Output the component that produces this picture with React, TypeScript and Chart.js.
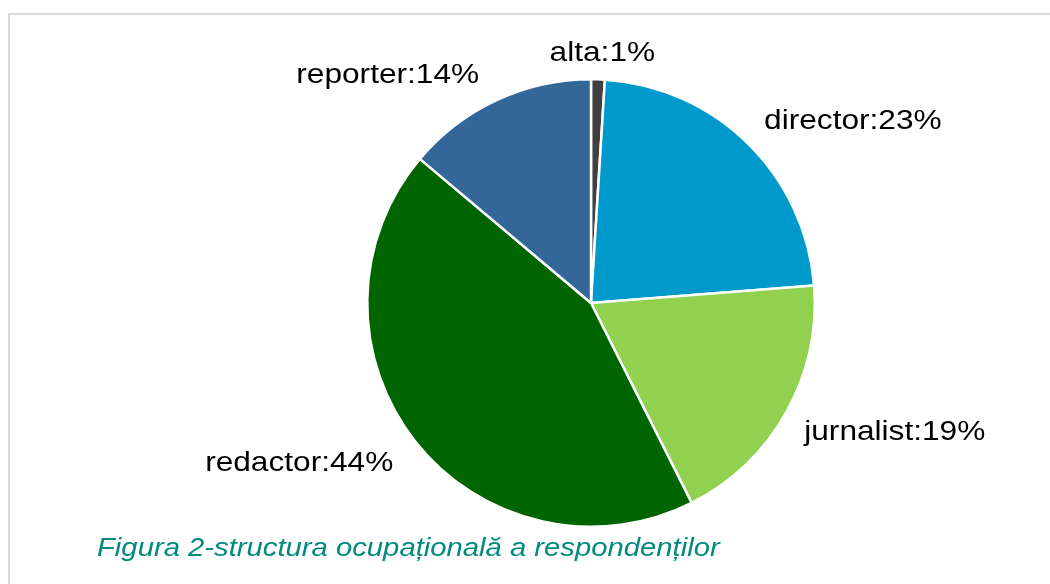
import React, { useEffect, useRef } from "react";
import { Chart, registerables } from "chart.js";

Chart.register(...registerables);

const categories = ["alta", "director", "jurnalist", "redactor", "reporter"];
const values = [1, 23, 19, 44, 14];
const labelsText = ["alta:1%", "director:23%", "jurnalist:19%", "redactor:44%", "reporter:14%"];
const colors = ["#404040", "#0099CC", "#92D050", "#006400", "#336699"];
const caption = "Figura 2-structura ocupațională a respondenților";

const SX = 1.15;
const FONT = "27.5px 'Liberation Sans', Arial, sans-serif";

const outsideLabels = {
  id: "outsideLabels",
  afterDatasetsDraw(chart: any) {
    const ctx = chart.ctx;
    const meta = chart.getDatasetMeta(0);
    ctx.save();
    ctx.font = FONT;
    ctx.fillStyle = "#000000";
    ctx.textBaseline = "alphabetic";
    ctx.textAlign = "left";
    meta.data.forEach((arc: any, i: number) => {
      const a = (arc.startAngle + arc.endAngle) / 2;
      const r = arc.outerRadius + 13;
      const ax = arc.x + Math.cos(a) * r;
      const ay = arc.y + Math.sin(a) * r;
      const text = labelsText[i];
      const w = ctx.measureText(text).width * SX;
      const right = Math.cos(a);
      const up = -Math.sin(a);
      let left: number;
      if (right > 0.15) left = ax + 7;
      else if (right < -0.15) left = ax - 12 - w;
      else left = ax + 4 - w / 2;
      let baseline: number;
      if (up > 0) baseline = ay - 5;
      else baseline = ay + 21;
      ctx.save();
      ctx.translate(left, baseline);
      ctx.scale(SX, 1);
      ctx.fillText(text, 0, 0);
      ctx.restore();
    });
    ctx.restore();
  },
};

export default function App() {
  const ref = useRef<HTMLCanvasElement>(null);
  useEffect(() => {
    if (!ref.current) return;
    const chart = new Chart(ref.current, {
      type: "pie",
      data: {
        labels: categories,
        datasets: [
          {
            data: values,
            backgroundColor: colors,
            borderColor: "#ffffff",
            borderWidth: 2.5,
          },
        ],
      },
      options: {
        animation: false,
        responsive: false,
        maintainAspectRatio: false,
        layout: { padding: { left: 358, right: 226, top: 70, bottom: 48 } },
        plugins: {
          legend: { display: false },
          tooltip: { enabled: false },
          title: { display: false },
        },
      },
      plugins: [outsideLabels],
    });
    return () => chart.destroy();
  }, []);

  return (
    <div style={{ position: "relative", width: 1034, height: 568, background: "#fff" }}>
      <div
        style={{
          position: "fixed",
          left: 8,
          top: 13,
          width: 1100,
          height: 700,
          borderTop: "2.5px solid #dadada",
          borderLeft: "2.5px solid #dadada",
          pointerEvents: "none",
        }}
      />
      <canvas ref={ref} width={1034} height={568} style={{ position: "absolute", left: 0, top: 0 }} />
      <div
        style={{
          position: "absolute",
          left: 89,
          top: 524,
          fontFamily: "'Liberation Sans', Arial, sans-serif",
          fontStyle: "italic",
          fontSize: 25,
          color: "#008A80",
          whiteSpace: "nowrap",
          transform: "scaleX(1.17)",
          transformOrigin: "left top",
          lineHeight: "30px",
        }}
      >
        {caption}
      </div>
    </div>
  );
}
